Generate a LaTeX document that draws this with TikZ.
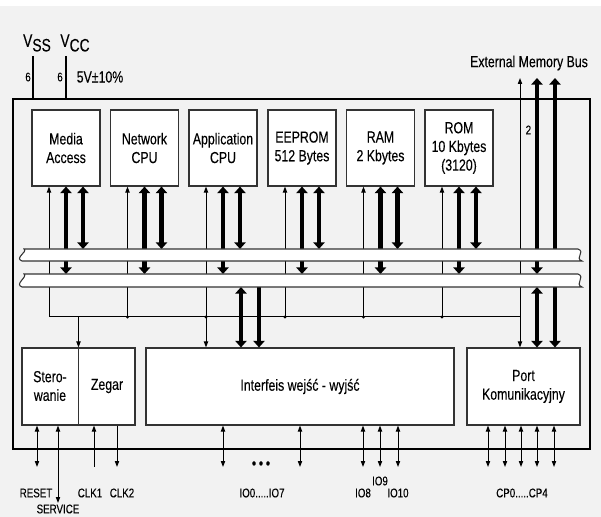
\documentclass[tikz,border=0pt]{standalone}
\usepackage{fontspec}
\setmainfont{Liberation Sans}[FakeStretch=0.77,FakeBold=0.15]
\usetikzlibrary{arrows.meta,calc}
% white bus band with wavy ends: top y, bottom y
\newcommand{\busband}[2]{%
  \path[busband] (24,#1) -- (578,#1) .. controls (586,#1+3) and (574,#2-3) .. (582,#2)
    -- (22,#2) .. controls (14,#2-3) and (28,#1+3) .. cycle;}

\begin{document}
\begin{tikzpicture}[x=0.75pt,y=-0.75pt,
  font=\fontsize{12}{14}\selectfont,
  blk/.style={draw=black!80, fill=white, line width=0.8pt, align=center, inner sep=1pt,
    minimum width=51pt, minimum height=57pt},
  wide/.style={minimum width=84.75pt, minimum height=57.75pt},
  thinarr/.style={line width=0.75pt, >={Triangle[length=4.5pt,width=3.2pt]}},
  bigarr/.style={line width=3.6pt, >={Triangle[length=5pt,width=8.5pt]}},
  busband/.style={draw=black!80, fill=white, line width=0.8pt},
  pinlbl/.style={font=\fontsize{9.5}{10}\selectfont},
]
\useasboundingbox (0,0) rectangle (601,517);
\fill[black!5] (0,6) rectangle (601,517);
% ---------------- chip outline and supply ----------------
\node[draw, line width=1.1pt, minimum width=432.75pt, minimum height=262.5pt] (chip) at (301.5,274) {};
\coordinate (vss) at (33,56);
\coordinate (vcc) at (66,56);
\draw[line width=0.8pt] (vss) -- (vss |- chip.north);
\draw[line width=0.8pt] (vcc) -- (vcc |- chip.north);
\node[font=\fontsize{13.5}{14}\selectfont] (vsslbl) at (37,43) {V\raisebox{-3.5pt}{SS}};
\node[font=\fontsize{13.5}{14}\selectfont] (vcclbl) at (75,43) {V\raisebox{-3.5pt}{CC}};
\node[pinlbl] (nss) at (28,77) {6};
\node[pinlbl] (ncc) at (60,77) {6};
\node (volt) at (100,77) {5V±10\%};
% ---------------- blocks ----------------
\node[blk] (media) at (66,148) {Media\\Access};
\node[blk] (netcpu) at (144.5,148) {Network\\CPU};
\node[blk] (appcpu) at (223,148) {Application\\CPU};
\node[blk] (eeprom) at (302,148) {EEPROM\\512 Bytes};
\node[blk] (ram) at (380.5,148) {RAM\\2 Kbytes};
\node[blk] (rom) at (459,148) {ROM\\10 Kbytes\\(3120)};
\node[blk, wide] (ctl) at (78.5,386.5) {};
\node[align=center] (ster) at (50,386) {Stero-\\wanie};
\node (zeg) at (107,386) {Zegar};
\draw[draw=black!80, line width=0.8pt] (ctl.north) -- (ctl.south);
\node[blk, wide, minimum width=231pt] (io) at (300,386.5) {Interfeis wejść - wyjść};
\node[blk, wide] (port) at (523.5,386.5) {Port\\Komunikacyjny};
% ---------------- internal buses ----------------
\coordinate (busAn) at (0,249);
\coordinate (busBn) at (0,274);
\coordinate (busBs) at (0,287);
\coordinate (hline) at (0,317);
\coordinate (extA) at (520,78);
\coordinate (extB) at (537,78);
\coordinate (extC) at (555,78);
\foreach \b in {media,netcpu,appcpu,eeprom,ram,rom}{
  \draw[thinarr,<-] ($(\b.south)+(-17,0)$) coordinate (\b-t) -- (\b-t |- hline);
  \draw[bigarr,<->] (\b.south) -- (\b.south |- busBn);
  \draw[bigarr,<->] ($(\b.south)+(17,0)$) coordinate (\b-r) -- (\b-r |- busAn);
}
\draw[thinarr] (media-t |- hline) -- (extA |- hline);
\foreach \b in {netcpu,appcpu,eeprom,ram,rom}
  \fill (\b-t |- hline) circle (1.3pt);
\draw[thinarr,->] (ctl.north |- hline) -- (ctl.north);
\draw[thinarr,->] (appcpu-t |- hline) -- (appcpu-t |- io.north);
\coordinate (ioL) at (241,0);
\coordinate (ioR) at (259,0);
\draw[bigarr,<->] (ioL |- busBs) -- (ioL |- io.north);
\draw[bigarr,->] (ioR |- busBs) -- (ioR |- io.north);
% ---------------- external memory bus ----------------
\node (extlbl) at (529,63) {External Memory Bus};
\draw[thinarr,<->] (extA) -- (extA |- port.north);
\node[pinlbl, anchor=west] (two) at (521,130) {2};
\draw[bigarr,<->] (extB) -- (extB |- busBn);
\draw[bigarr,<-] (extC) -- (extC |- busAn);
\draw[bigarr,<->] (extB |- busBs) -- (extB |- port.north);
\draw[bigarr,->] (extC |- busBs) -- (extC |- port.north);
\busband{249}{261}
\busband{274}{287}
% ---------------- pins ----------------
\foreach \px/\bx in {37/ctl,223/io,300/io,363/io,380/io,398/io,488/port,505/port,521/port,537/port,554/port}{
  \coordinate (pin) at (\px,467);
  \draw[thinarr,<->] (pin |- \bx.south) -- (pin);
}
\coordinate (pinsrv) at (58,503);
\draw[thinarr,<->] (pinsrv |- ctl.south) -- (pinsrv);
\coordinate (pinclka) at (94,467);
\draw[thinarr,<-] (pinclka |- ctl.south) -- (pinclka);
\coordinate (pinclkb) at (117,467);
\draw[thinarr,->] (pinclkb |- ctl.south) -- (pinclkb);
\node[pinlbl] (rst) at (36,493) {RESET};
\node[pinlbl] (srv) at (58,509) {SERVICE};
\node[pinlbl] (clka) at (90,493) {CLK1};
\node[pinlbl] (clkb) at (122,493) {CLK2};
\node (dots) at (261,465) {\textbullet\,\textbullet\,\textbullet};
\node[pinlbl] (iolo) at (262,493) {IO0.....IO7};
\node[pinlbl] (ioh) at (363,493) {IO8};
\node[pinlbl] (ioi) at (380,481) {IO9};
\node[pinlbl] (ioj) at (398,493) {IO10};
\node[pinlbl] (cps) at (522,493) {CP0.....CP4};
\end{tikzpicture}
\end{document}
